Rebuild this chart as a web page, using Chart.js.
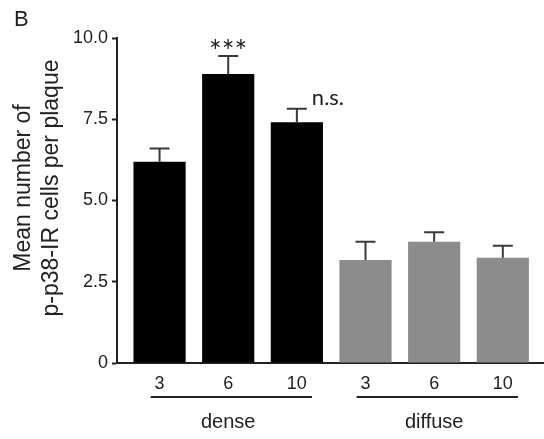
<!DOCTYPE html>
<html>
<head>
<meta charset="utf-8">
<script src="https://cdn.jsdelivr.net/npm/chart.js@4"></script>
<style>
  html, body { margin: 0; padding: 0; background: #fff; }
  #wrap { width: 544px; height: 439px; position: relative; }
</style>
</head>
<body>
<div id="wrap"><canvas id="c" width="544" height="439"></canvas></div>
<script>
// ---- data ----
const tickLabels = ["3", "6", "10", "3", "6", "10"];
const groups = ["dense", "diffuse"];
const means = [6.19, 8.89, 7.41, 3.17, 3.73, 3.24];
const errors = [0.41, 0.56, 0.41, 0.56, 0.29, 0.37];
const barColors = ["#000000", "#000000", "#000000", "#8c8c8c", "#8c8c8c", "#8c8c8c"];
const significance = ["", "***", "n.s.", "", "", ""];
const yTicks = [0, 2.5, 5, 7.5, 10];
const yTickText = ["0", "2.5", "5.0", "7.5", "10.0"];
const yTitle = ["Mean number of", "p-p38-IR cells per plaque"];
const panelLabel = "B";

const axisColor = "#222";
const textColor = "#222";

const points = means.map((m, i) => ({ x: i, y: m }));

const extrasPlugin = {
  id: "extras",
  afterDatasetsDraw(chart) {
    const ctx = chart.ctx;
    const meta = chart.getDatasetMeta(0);
    const ys = chart.scales.y;
    ctx.save();
    // error bars
    ctx.strokeStyle = "#3a3a3a";
    ctx.lineWidth = 2;
    meta.data.forEach((bar, i) => {
      const top = ys.getPixelForValue(means[i] + errors[i]);
      ctx.beginPath();
      ctx.moveTo(bar.x, bar.y);
      ctx.lineTo(bar.x, top);
      ctx.moveTo(bar.x - 10, top);
      ctx.lineTo(bar.x + 10, top);
      ctx.stroke();
    });
    // significance marks
    ctx.fillStyle = textColor;
    meta.data.forEach((bar, i) => {
      const s = significance[i];
      if (!s) return;
      const top = ys.getPixelForValue(means[i] + errors[i]);
      if (s === "***") {
        ctx.font = "30px Lato";
        ctx.textAlign = "center";
        ctx.textBaseline = "alphabetic";
        ctx.fillText(s, bar.x, top + 6);
      } else {
        ctx.font = "22px Lato";
        ctx.textAlign = "left";
        ctx.textBaseline = "alphabetic";
        ctx.fillText(s, bar.x + 15, top - 4);
      }
    });
    ctx.restore();
  },
  afterDraw(chart) {
    const ctx = chart.ctx;
    const xs = chart.scales.x;
    ctx.save();
    // group underlines and labels
    ctx.strokeStyle = axisColor;
    ctx.lineWidth = 2;
    ctx.fillStyle = textColor;
    ctx.font = "20px 'Liberation Sans', Arial, sans-serif";
    ctx.textAlign = "center";
    ctx.textBaseline = "middle";
    groups.forEach((g, gi) => {
      const a = xs.getPixelForValue(gi * 3 - 0.13);
      const b = xs.getPixelForValue(gi * 3 + 2 + 0.22);
      ctx.beginPath();
      ctx.moveTo(a, 397);
      ctx.lineTo(b, 397);
      ctx.stroke();
      ctx.fillText(g, xs.getPixelForValue(gi * 3 + 1), 422);
    });
    // y title
    ctx.font = "23px 'Liberation Sans', Arial, sans-serif";
    yTitle.forEach((t, li) => {
      ctx.save();
      ctx.translate(24 + li * 28, 188);
      ctx.rotate(-Math.PI / 2);
      ctx.fillText(t, 0, 0);
      ctx.restore();
    });
    // panel label
    ctx.font = "22px 'Liberation Sans', Arial, sans-serif";
    ctx.textAlign = "left";
    ctx.textBaseline = "alphabetic";
    ctx.fillText(panelLabel, 14, 26);
    ctx.restore();
  }
};

new Chart(document.getElementById("c"), {
  type: "bar",
  data: {
    datasets: [{
      data: points,
      backgroundColor: barColors,
      borderWidth: 0,
      barPercentage: 0.76,
      categoryPercentage: 1
    }]
  },
  options: {
    responsive: false,
    animation: false,
    devicePixelRatio: 1,
    layout: { padding: { top: 38, right: 0, left: 0, bottom: 0 } },
    plugins: { legend: { display: false }, tooltip: { enabled: false } },
    scales: {
      x: {
        type: "linear",
        offset: false,
        min: -0.62,
        max: 5.6,
        afterBuildTicks(scale) { scale.ticks = tickLabels.map((_, i) => ({ value: i })); },
        afterFit(scale) { scale.height = 76; },
        grid: { display: false, drawTicks: false },
        border: { display: true, color: axisColor, width: 2 },
        ticks: {
          padding: 10,
          color: textColor,
          font: { family: "'Liberation Sans', Arial, sans-serif", size: 18 },
          callback: (v) => tickLabels[v] ?? ""
        }
      },
      y: {
        min: 0,
        max: 10,
        afterBuildTicks(scale) { scale.ticks = yTicks.map(v => ({ value: v })); },
        afterFit(scale) { scale.width = 117; },
        grid: { drawOnChartArea: false, drawTicks: true, tickLength: 5, tickWidth: 2, color: axisColor },
        border: { display: true, color: axisColor, width: 2 },
        ticks: {
          padding: 4,
          color: textColor,
          font: { family: "'Liberation Sans', Arial, sans-serif", size: 18 },
          callback: (v) => yTickText[yTicks.indexOf(v)] ?? ""
        }
      }
    }
  },
  plugins: [extrasPlugin]
});
</script>
</body>
</html>
